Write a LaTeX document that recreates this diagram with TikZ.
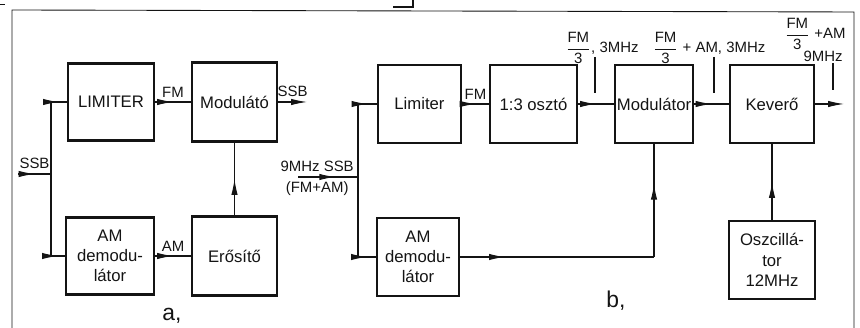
\documentclass[tikz,border=0pt]{standalone}
\usepackage{fontspec}
\setmainfont{Liberation Sans}
\usepackage{amsmath}
\usepackage{xcolor}
\usepackage{tikz}
\usetikzlibrary{arrows.meta,decorations.markings}
\definecolor{SchInk}{HTML}{141414}
\newcommand{\sigfrac}[2]{$\dfrac{\text{#1}}{\text{#2}}$}

\begin{document}
\begin{tikzpicture}[x=1cm,y=1cm,
  sigbox/.style={draw=SchInk,line width=1.5pt,align=center,inner sep=0pt,font=\fontsize{9.5}{11.5}\selectfont,text=SchInk},
  sigline/.style={draw=SchInk,line width=0.6pt},
  sigflow/.style={sigline,decoration={markings,mark=at position #1 with {\arrow{Latex[length=9pt,width=3.6pt]}}},postaction={decorate}},
  sigflow/.default=0.5,
  sigfeed/.style={sigline,-{Latex[length=9pt,width=3.6pt]}},
  siglabel/.style={font=\fontsize{8.5}{10}\selectfont,text=SchInk,inner sep=2.5pt},
  sigpart/.style={font=\fontsize{13}{15}\selectfont,text=SchInk}]
\path[use as bounding box] (0,0) rectangle (17.20,6.56);
\draw[SchInk,line width=0.5pt] (0.24,0) -- (0.24,6.36) -- (17.08,6.32) -- (17.08,0);
\draw[SchInk,line width=0.5pt,dashed] (0,6.48) -- (0.18,6.48);
\draw[SchInk,line width=0.6pt] (7.86,6.42) -- (8.26,6.42) -- (8.26,6.56);
\node[sigbox,minimum width=1.72cm,minimum height=1.54cm] (limA) at (2.22,4.52) {LIMITER};
\node[sigbox,minimum width=1.70cm,minimum height=1.58cm] (modA) at (4.69,4.52) {Modulátó};
\node[sigbox,minimum width=1.76cm,minimum height=1.54cm] (demA) at (2.20,1.44) {AM\\demodu-\\látor};
\node[sigbox,minimum width=1.70cm,minimum height=1.58cm] (ampA) at (4.69,1.44) {Erősítő};
\coordinate (inA) at (0.36,3.08);
\coordinate (jA) at (1.02,3.08);
\coordinate (outA) at (6.14,4.52);
\draw[sigflow] (inA) -- node[siglabel,above]{SSB} (jA);
\draw[sigline] (jA |- limA) -- (jA |- demA);
\draw[sigflow] (jA |- limA) -- (limA);
\draw[sigflow] (jA |- demA) -- (demA);
\draw[sigflow] (limA) -- node[siglabel,above]{FM} (modA);
\draw[sigflow] (demA) -- node[siglabel,above]{AM} (ampA);
\draw[sigflow] (ampA) -- (modA);
\draw[sigfeed] (modA) -- node[siglabel,above]{SSB} (outA);
\node[sigpart] (partA) at (3.44,0.24) {a,};
\node[sigbox,minimum width=1.66cm,minimum height=1.56cm] (limB) at (8.39,4.48) {Limiter};
\node[sigbox,minimum width=1.74cm,minimum height=1.56cm] (divB) at (10.67,4.48) {1:3 osztó};
\node[sigbox,minimum width=1.56cm,minimum height=1.56cm] (modB) at (13.08,4.48) {Modulátor};
\node[sigbox,minimum width=1.68cm,minimum height=1.56cm] (mixB) at (15.44,4.48) {Keverő};
\node[sigbox,minimum width=1.64cm,minimum height=1.56cm] (demB) at (8.36,1.42) {AM\\demodu-\\látor};
\node[sigbox,minimum width=1.72cm,minimum height=1.56cm] (oscB) at (15.44,1.36) {Oszcillá-\\tor\\12MHz};
\coordinate (inB) at (5.96,3.02);
\coordinate (jB) at (7.16,3.02);
\coordinate (outB) at (16.88,4.48);
\coordinate (cB) at (modB |- demB);
\draw[sigflow=0.62] (inB) -- node[siglabel,above,pos=0.32]{9MHz SSB} node[siglabel,below,pos=0.32]{(FM+AM)} (jB);
\draw[sigline] (jB |- limB) -- (jB |- demB);
\draw[sigflow] (jB |- limB) -- (limB);
\draw[sigflow] (jB |- demB) -- (demB);
\draw[sigflow] (limB) -- node[siglabel,above]{FM} (divB);
\draw[sigflow] (divB) -- (modB);
\draw[sigflow] (modB) -- (mixB);
\draw[sigfeed] (mixB) -- (outB);
\draw[sigflow=0.23] (demB) -- (cB);
\draw[sigflow=0.65] (cB) -- (modB);
\draw[sigflow] (oscB) -- (mixB);
\node[siglabel] (tagOne) at (12.04,5.60) {\sigfrac{FM}{3}, 3MHz};
\node[siglabel] (tagTwo) at (14.18,5.60) {\sigfrac{FM}{3} + AM, 3MHz};
\node[siglabel] (tagThree) at (16.30,5.88) {\sigfrac{FM}{3} +AM};
\node[siglabel] (tagFour) at (16.46,5.44) {9MHz};
\coordinate (tickOneA) at (11.90,5.42);
\coordinate (tickOneB) at (11.90,4.70);
\coordinate (tickTwoA) at (14.28,5.42);
\coordinate (tickTwoB) at (14.28,4.70);
\coordinate (tickThreeA) at (16.66,5.30);
\coordinate (tickThreeB) at (16.66,4.76);
\draw[sigline] (tickOneA) -- (tickOneB);
\draw[sigline] (tickTwoA) -- (tickTwoB);
\draw[sigline] (tickThreeA) -- (tickThreeB);
\node[sigpart] (partB) at (12.32,0.54) {b,};
\end{tikzpicture}
\end{document}
